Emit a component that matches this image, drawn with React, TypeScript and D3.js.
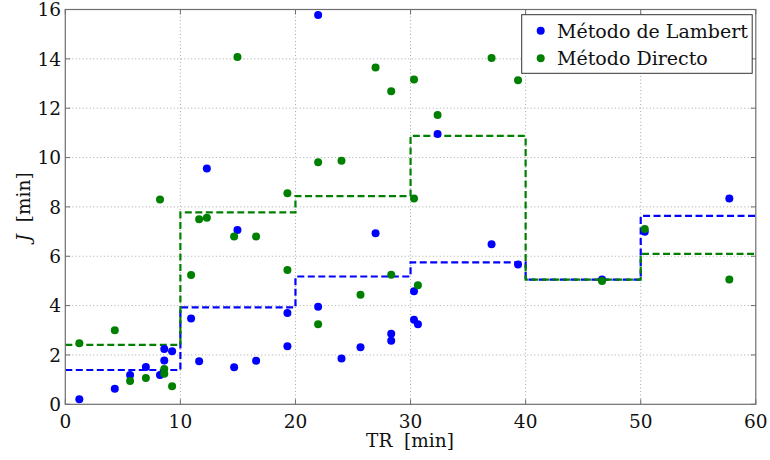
import React from "react";
import * as d3 from "d3";

const tr = [1.22, 4.3, 5.63, 7.0, 8.23, 8.6, 8.6, 9.28, 10.93, 11.63, 12.3, 14.67, 14.96, 16.58, 19.3, 19.3, 21.97, 21.97, 24.0, 25.65, 26.96, 28.32, 28.32, 30.3, 30.3, 30.64, 32.35, 37.04, 39.34, 46.64, 50.35, 57.7];
const lambert = [0.2, 0.63, 1.19, 1.51, 1.19, 2.24, 1.78, 2.15, 3.48, 1.74, 9.56, 1.5, 7.06, 1.77, 3.7, 2.35, 15.78, 3.95, 1.86, 2.31, 6.93, 2.86, 2.58, 4.58, 3.43, 3.24, 10.95, 6.49, 5.67, 5.06, 6.99, 8.34];
const directo = [2.47, 3.0, 0.94, 1.07, 8.3, 1.43, 1.24, 0.73, 5.24, 7.5, 7.56, 6.8, 14.08, 6.8, 8.55, 5.44, 9.81, 3.24, 9.87, 4.44, 13.65, 12.69, 5.25, 13.16, 8.34, 4.82, 11.72, 14.03, 13.13, 5.0, 7.1, 5.06];

const binEdges = [0, 10, 20, 30, 40, 50, 60];
const lambertSteps = [1.39, 3.93, 5.18, 5.75, 5.05, 7.64];
const directoSteps = [2.41, 7.78, 8.44, 10.88, 5.05, 6.1];

const xTicks = [0, 10, 20, 30, 40, 50, 60];
const yTicks = [0, 2, 4, 6, 8, 10, 12, 14, 16];

const legendLabels = ["Método de Lambert", "Método Directo"];
const BLUE = "#0000ff";
const GREEN = "#008000";

const W = 770, H = 460;
const L = 65.3, R = 755.8, T = 9.5, B = 404.3;

export default function App() {
  const x = d3.scaleLinear().domain([0, 60]).range([L, R]);
  const y = d3.scaleLinear().domain([0, 16]).range([B, T]);
  const font = "'DejaVu Serif', serif";

  const stepPts = (vals: number[]) =>
    binEdges.map((e, i) => [e, vals[Math.min(i, vals.length - 1)]] as [number, number]);
  const line = d3
    .line<[number, number]>()
    .x((d) => x(d[0]))
    .y((d) => y(d[1]))
    .curve(d3.curveStepAfter);

  const axisColor = "#6e6e6e";
  const tick = 5;

  return (
    <svg width={W} height={H} style={{ position: "absolute", left: 0, top: 0, background: "#fff" }}>
      <rect x={0} y={0} width={W} height={H} fill="#fff" />
      {/* grid */}
      {xTicks.slice(1, -1).map((t) => (
        <line key={"gx" + t} x1={x(t)} x2={x(t)} y1={T} y2={B} stroke="#a8a8a8" strokeWidth={1} strokeDasharray="1,2.5" />
      ))}
      {yTicks.slice(1, -1).map((t) => (
        <line key={"gy" + t} x1={L} x2={R} y1={y(t)} y2={y(t)} stroke="#a8a8a8" strokeWidth={1} strokeDasharray="1,2.5" />
      ))}
      {/* step lines */}
      <path d={line(stepPts(lambertSteps)) || ""} fill="none" stroke={BLUE} strokeWidth={2.2} strokeDasharray="7,3.5" />
      <path d={line(stepPts(directoSteps)) || ""} fill="none" stroke={GREEN} strokeWidth={2.2} strokeDasharray="7,3.5" />
      {/* points */}
      {tr.map((t, i) => (
        <circle key={"b" + i} cx={x(t)} cy={y(lambert[i])} r={4} fill={BLUE} />
      ))}
      {tr.map((t, i) => (
        <circle key={"g" + i} cx={x(t)} cy={y(directo[i])} r={4} fill={GREEN} />
      ))}
      {/* box */}
      <rect x={L} y={T} width={R - L} height={B - T} fill="none" stroke={axisColor} strokeWidth={1.2} />
      {/* ticks */}
      {xTicks.map((t) => (
        <g key={"xt" + t}>
          <line x1={x(t)} x2={x(t)} y1={B} y2={B - tick} stroke={axisColor} />
          <line x1={x(t)} x2={x(t)} y1={T} y2={T + tick} stroke={axisColor} />
          <text x={x(t)} y={427.5} textAnchor="middle" fontFamily={font} fontSize={18.5} fill="#111">
            {t}
          </text>
        </g>
      ))}
      {yTicks.map((t) => (
        <g key={"yt" + t}>
          <line x1={L} x2={L + tick} y1={y(t)} y2={y(t)} stroke={axisColor} />
          <line x1={R} x2={R - tick} y1={y(t)} y2={y(t)} stroke={axisColor} />
          <text x={61} y={y(t) + 6.7} textAnchor="end" fontFamily={font} fontSize={18.5} fill="#111">
            {t}
          </text>
        </g>
      ))}
      {/* axis labels */}
      <text x={410} y={447} textAnchor="middle" fontFamily={font} fontSize={18.5} fill="#111">
        TR{"\u00a0\u00a0"}[min]
      </text>
      <text transform={`translate(30, ${(T + B) / 2}) rotate(-90)`} textAnchor="middle" fontFamily={font} fontSize={18.5} fill="#111">
        <tspan fontStyle="italic">J</tspan>
        {"\u00a0\u00a0"}[min]
      </text>
      {/* legend */}
      <rect x={521.7} y={14.7} width={230.5} height={58.6} fill="#fff" stroke="#333" strokeWidth={1} />
      {legendLabels.map((lab, i) => (
        <g key={lab}>
          <circle cx={540.7} cy={30.7 + i * 27.6} r={4} fill={i === 0 ? BLUE : GREEN} />
          <text x={557} y={37.5 + i * 27.6} fontFamily={font} fontSize={19} fill="#111">
            {lab}
          </text>
        </g>
      ))}
    </svg>
  );
}
